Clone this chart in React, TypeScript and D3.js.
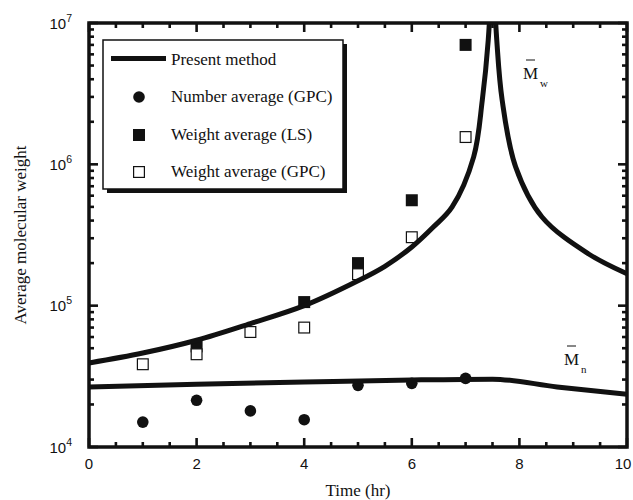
import React from "react";
import * as d3 from "d3";

// ---- data ----
const mwLeftT = [0, 1, 2, 3, 4, 5, 5.5, 6, 6.4, 6.75, 7.15, 7.31, 7.42, 7.5];
const mwLeftV = [3.93e4, 4.62e4, 5.69e4, 7.47e4, 1.0e5, 1.5e5, 1.9e5, 2.6e5, 3.6e5, 5.0e5, 1.13e6, 2.84e6, 7.5e6, 3e7];
const mwRightT = [7.5, 7.58, 7.68, 7.93, 8.42, 9.28, 10];
const mwRightV = [3e7, 7.5e6, 2.84e6, 9.6e5, 4.24e5, 2.33e5, 1.68e5];
const mnCurveT = [0, 2, 4, 6, 7.5, 8.7, 10];
const mnCurveV = [2.66e4, 2.78e4, 2.88e4, 2.98e4, 3.02e4, 2.66e4, 2.36e4];

const gpcNumT = [1, 2, 3, 4, 5, 6, 7];
const gpcNumV = [1.5e4, 2.14e4, 1.8e4, 1.56e4, 2.73e4, 2.82e4, 3.06e4];
const lsWeightT = [2, 4, 5, 6, 7];
const lsWeightV = [5.15e4, 1.06e5, 2.0e5, 5.57e5, 7.0e6];
const gpcWeightT = [1, 2, 3, 4, 5, 6, 7];
const gpcWeightV = [3.85e4, 4.53e4, 6.51e4, 7.0e4, 1.67e5, 3.05e5, 1.56e6];

const xTickValues = [0, 2, 4, 6, 8, 10];
const yTickExponents = [4, 5, 6, 7];
const legendLabels = ["Present method", "Number average (GPC)", "Weight average (LS)", "Weight average (GPC)"];

const X0 = 89, X1 = 627, Y0 = 447, Y1 = 23;

export default function App() {
  const x = d3.scaleLinear().domain([0, 10]).range([X0, X1]);
  const y = d3.scaleLog().domain([1e4, 1e7]).range([Y0, Y1]);
  const smooth = d3
    .line<[number, number]>()
    .x((d) => x(d[0]))
    .y((d) => y(d[1]))
    .curve(d3.curveCatmullRom.alpha(0.5));
  const straight = d3
    .line<[number, number]>()
    .x((d) => x(d[0]))
    .y((d) => y(d[1]))
    .curve(d3.curveMonotoneX);
  const mwLeft = smooth(mwLeftT.map((t, i) => [t, mwLeftV[i]]));
  const mwRight = smooth(mwRightT.map((t, i) => [t, mwRightV[i]]));
  const mnPath = straight(mnCurveT.map((t, i) => [t, mnCurveV[i]]));

  const xMinor = d3.range(0, 10.01, 0.5);
  const yMinor: number[] = [];
  for (let e = 4; e < 7; e++) for (let k = 2; k <= 9; k++) yMinor.push(k * Math.pow(10, e));

  const serif = "'Liberation Serif', 'Times New Roman', serif";
  const sans = "'Liberation Sans', Arial, sans-serif";
  const sq = 12;

  return (
    <svg width={633} height={500} style={{ position: "absolute", left: 0, top: 0 }}>
      <rect width={633} height={500} fill="#fff" />
      <defs>
        <clipPath id="plot">
          <rect x={X0} y={Y1} width={X1 - X0} height={Y0 - Y1} />
        </clipPath>
      </defs>

      {/* ticks */}
      <g stroke="#111" strokeWidth={2.6}>
        {xMinor.map((t, i) => {
          const major = Math.abs(t % 2) < 1e-6;
          const L = major ? 9 : 5;
          return (
            <g key={"xt" + i}>
              <line x1={x(t)} x2={x(t)} y1={Y0} y2={Y0 - L} />
              <line x1={x(t)} x2={x(t)} y1={Y1} y2={Y1 + L} />
            </g>
          );
        })}
        {yMinor.map((v, i) => (
          <g key={"ym" + i}>
            <line x1={X0} x2={X0 + 5} y1={y(v)} y2={y(v)} />
            <line x1={X1} x2={X1 - 5} y1={y(v)} y2={y(v)} />
          </g>
        ))}
        {yTickExponents.map((e) => (
          <g key={"yM" + e}>
            <line x1={X0} x2={X0 + 9} y1={y(Math.pow(10, e))} y2={y(Math.pow(10, e))} />
            <line x1={X1} x2={X1 - 9} y1={y(Math.pow(10, e))} y2={y(Math.pow(10, e))} />
          </g>
        ))}
      </g>

      {/* markers */}
      <g>
        {lsWeightT.map((t, i) => (
          <rect key={"ls" + i} x={x(t) - sq / 2} y={y(lsWeightV[i]) - sq / 2} width={sq} height={sq} fill="#111" />
        ))}
        {gpcWeightT.map((t, i) => (
          <rect key={"gw" + i} x={x(t) - sq / 2 + 0.6} y={y(gpcWeightV[i]) - sq / 2 + 0.6} width={sq - 1.2} height={sq - 1.2} fill="#fff" stroke="#111" strokeWidth={1.2} />
        ))}
        {gpcNumT.map((t, i) => (
          <circle key={"gn" + i} cx={x(t)} cy={y(gpcNumV[i])} r={5.8} fill="#111" />
        ))}
      </g>

      {/* curves */}
      <g clipPath="url(#plot)" fill="none" stroke="#111" strokeWidth={5}>
        <path d={mwLeft || ""} />
        <path d={mwRight || ""} />
        <path d={mnPath || ""} />
      </g>

      {/* frame */}
      <rect x={X0} y={Y1} width={X1 - X0} height={Y0 - Y1} fill="none" stroke="#111" strokeWidth={3.5} />

      {/* x tick labels */}
      <g fontFamily={sans} fontSize={15} fill="#111" textAnchor="middle">
        {xTickValues.map((t) => (
          <text key={"xl" + t} x={t === 10 ? x(t) - 4 : x(t)} y={469}>
            {t}
          </text>
        ))}
      </g>
      {/* y tick labels */}
      <g fontFamily={sans} fill="#111">
        {yTickExponents.map((e) => (
          <text key={"yl" + e} x={72} y={y(Math.pow(10, e)) + 5.5} textAnchor="end" fontSize={15}>
            10
            <tspan dy={-7} fontSize={10.5}>
              {e}
            </tspan>
          </text>
        ))}
      </g>

      {/* axis titles */}
      <text x={358} y={496} textAnchor="middle" fontFamily={serif} fontSize={17} fill="#111">
        Time (hr)
      </text>
      <text
        transform={`translate(26, ${(Y0 + Y1) / 2}) rotate(-90)`}
        textAnchor="middle"
        fontFamily={serif}
        fontSize={17}
        fill="#111"
      >
        Average molecular weight
      </text>

      {/* curve labels */}
      <g fontFamily={serif} fill="#111">
        <text x={523} y={79} fontSize={17}>M</text>
        <line x1={526} x2={535} y1={60} y2={60} stroke="#111" strokeWidth={1} />
        <text x={540} y={87} fontSize={11}>w</text>
        <text x={564} y={365} fontSize={17}>M</text>
        <line x1={567} x2={576} y1={346} y2={346} stroke="#111" strokeWidth={1} />
        <text x={581} y={373} fontSize={11}>n</text>
      </g>

      {/* legend */}
      <g>
        <rect x={107} y={44} width={240} height={149} fill="#111" />
        <rect x={103} y={40} width={240} height={149} fill="#fff" stroke="#111" strokeWidth={1.5} />
        <line x1={111} x2={166} y1={58.5} y2={58.5} stroke="#111" strokeWidth={5} />
        <circle cx={139} cy={97} r={5.8} fill="#111" />
        <rect x={139 - sq / 2} y={135 - sq / 2} width={sq} height={sq} fill="#111" />
        <rect x={139 - sq / 2 + 0.6} y={172 - sq / 2 + 0.6} width={sq - 1.2} height={sq - 1.2} fill="#fff" stroke="#111" strokeWidth={1.2} />
        <g fontFamily={serif} fontSize={17} fill="#111">
          {legendLabels.map((l, i) => (
            <text key={l} x={171} y={[65, 102, 140, 177][i]}>
              {l}
            </text>
          ))}
        </g>
      </g>
    </svg>
  );
}
